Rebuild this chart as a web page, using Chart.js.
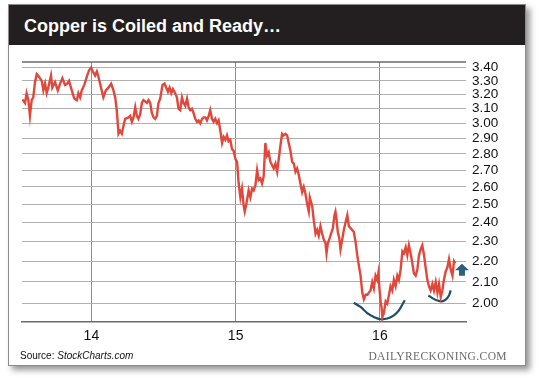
<!DOCTYPE html>
<html>
<head>
<meta charset="utf-8">
<script src="https://cdn.jsdelivr.net/npm/chart.js@4/dist/chart.umd.min.js"></script>
<style>
  body { margin:0; width:540px; height:378px; background:#fff; position:relative; overflow:hidden; font-family:"Liberation Sans", Arial, Helvetica, sans-serif; }
  .card { position:absolute; left:8px; top:4px; width:518px; height:362px; box-sizing:border-box; background:#fff;
          border:1px solid #8c8c8c; box-shadow:4px 4px 6px rgba(0,0,0,0.42); }
  .head { height:40px; padding-top:2px; box-sizing:border-box; background:#231f20; color:#fff; font-weight:bold; font-size:18px;
          line-height:38px; padding-left:15px; }
  #c { position:absolute; left:0; top:0; }
  .src { position:absolute; left:20px; top:349px; font-size:10px; line-height:14px; color:#111; }
  .brand { position:absolute; right:33px; top:349px; font-family:"Liberation Serif", "DejaVu Serif", serif; font-size:11.5px;
           line-height:14px; color:#6a6a6a; letter-spacing:0.4px; }
</style>
</head>
<body>
<div class="card"><div class="head">Copper is Coiled and Ready…</div></div>
<canvas id="c" width="540" height="378"></canvas>
<div class="src">Source: <i>StockCharts.com</i></div>
<div class="brand">DAILYRECKONING.COM</div>
<script>
// copper price, $/lb, x = year (14 = 2014)
const dates = [
  13.521,13.540,13.551,13.563,13.574,13.586,13.597,13.609,13.621,13.637,13.656,13.667,13.679,13.690,13.701,13.720,13.729,13.748,13.767,13.783,
  13.799,13.817,13.833,13.845,13.864,13.882,13.899,13.910,13.922,13.933,13.951,13.968,13.984,13.998,14.010,14.026,14.038,14.049,14.067,14.083,
  14.100,14.118,14.137,14.153,14.165,14.176,14.188,14.199,14.211,14.222,14.234,14.257,14.269,14.281,14.292,14.304,14.315,14.326,14.338,14.350,
  14.361,14.385,14.396,14.408,14.419,14.431,14.442,14.454,14.465,14.477,14.493,14.507,14.519,14.531,14.542,14.554,14.565,14.576,14.593,14.604,
  14.616,14.628,14.639,14.651,14.663,14.674,14.685,14.697,14.708,14.720,14.732,14.743,14.755,14.767,14.778,14.790,14.801,14.813,14.824,14.836,
  14.847,14.859,14.871,14.882,14.894,14.906,14.917,14.929,14.940,14.951,14.963,14.975,14.986,14.998,15.010,15.021,15.033,15.044,15.056,15.063,
  15.074,15.090,15.102,15.114,15.125,15.137,15.149,15.160,15.172,15.183,15.194,15.206,15.218,15.229,15.241,15.253,15.264,15.276,15.288,15.299,
  15.310,15.322,15.333,15.345,15.357,15.368,15.380,15.392,15.403,15.415,15.426,15.438,15.449,15.461,15.472,15.484,15.496,15.507,15.514,15.531,
  15.542,15.554,15.565,15.576,15.588,15.600,15.611,15.623,15.630,15.639,15.653,15.674,15.685,15.692,15.699,15.708,15.718,15.727,15.739,15.750,
  15.762,15.774,15.785,15.797,15.808,15.819,15.831,15.843,15.854,15.866,15.878,15.889,15.901,15.913,15.924,15.935,15.947,15.958,15.970,15.982,
  15.989,15.998,16.005,16.012,16.017,16.028,16.040,16.051,16.063,16.074,16.086,16.097,16.109,16.121,16.132,16.144,16.156,16.167,16.179,16.190,
  16.201,16.213,16.225,16.236,16.248,16.260,16.271,16.283,16.294,16.306,16.317,16.329,16.340,16.352,16.364,16.375,16.387,16.399,16.410,16.422,
  16.433,16.444,16.456,16.468,16.479,16.491,16.503,16.514,16.522
];
const prices = [
  3.165,3.14,3.21,3.16,3.05,3.16,3.18,3.29,3.35,3.33,3.30,3.23,3.28,3.21,3.25,3.34,3.25,3.29,3.23,3.28,
  3.32,3.27,3.28,3.30,3.23,3.17,3.16,3.21,3.18,3.23,3.27,3.33,3.38,3.40,3.37,3.34,3.37,3.33,3.25,3.18,
  3.23,3.25,3.28,3.23,3.18,3.09,2.93,2.95,2.93,2.98,3.03,3.04,3.05,3.01,3.04,3.11,3.05,3.03,3.06,3.14,
  3.16,3.14,3.16,3.14,3.07,3.04,3.03,3.05,3.14,3.17,3.27,3.28,3.25,3.22,3.25,3.21,3.24,3.22,3.18,3.10,
  3.09,3.18,3.14,3.12,3.17,3.11,3.09,3.10,3.07,3.03,3.01,3.02,3.00,3.03,3.04,3.04,3.02,3.05,3.09,3.03,
  3.01,3.03,3.00,3.02,2.95,2.87,2.91,2.89,2.92,2.88,2.89,2.83,2.82,2.77,2.75,2.62,2.54,2.59,2.49,2.46,
  2.50,2.58,2.54,2.59,2.58,2.61,2.70,2.64,2.65,2.62,2.66,2.87,2.79,2.81,2.75,2.73,2.71,2.74,2.69,2.77,
  2.85,2.93,2.92,2.93,2.92,2.87,2.82,2.75,2.74,2.69,2.71,2.67,2.62,2.57,2.60,2.56,2.50,2.46,2.54,2.49,
  2.41,2.34,2.36,2.33,2.38,2.34,2.31,2.29,2.24,2.29,2.32,2.37,2.44,2.46,2.42,2.35,2.32,2.26,2.31,2.36,
  2.40,2.44,2.38,2.37,2.36,2.35,2.30,2.23,2.18,2.13,2.05,2.02,2.04,2.04,2.05,2.06,2.10,2.07,2.13,2.11,
  2.14,2.06,2.01,1.98,1.94,1.96,2.01,2.00,2.04,2.08,2.06,2.11,2.08,2.13,2.11,2.16,2.25,2.24,2.27,2.23,
  2.28,2.24,2.19,2.14,2.13,2.16,2.23,2.26,2.28,2.23,2.17,2.11,2.08,2.06,2.09,2.06,2.10,2.05,2.09,2.03,
  2.06,2.11,2.15,2.17,2.21,2.16,2.13,2.20,2.19
];

// hand-drawn "cups" under the two lows
const cup1Dates  = [15.819,15.866,15.913,15.958,16.005,16.051,16.097,16.132,16.172];
const cup1Prices = [2.004,1.985,1.958,1.941,1.931,1.934,1.948,1.970,2.015];
const cup2Dates  = [16.336,16.364,16.394,16.429,16.456,16.479,16.491];
const cup2Prices = [2.037,2.025,2.015,2.010,2.018,2.037,2.060];
const arrowAt = {x: 16.569, y: 2.188};

const yTicks = [2.00,2.10,2.20,2.30,2.40,2.50,2.60,2.70,2.80,2.90,3.00,3.10,3.20,3.30,3.40];
const xTicks = [14, 15, 16];

const red = '#e2473b';
const blue = '#1f4e6d';
const pts = (xs, ys) => xs.map((x, i) => ({x: x, y: ys[i]}));

const frameAndArrow = {
  id: 'frameAndArrow',
  afterDatasetsDraw(chart) {
    const ctx = chart.ctx;
    const a = chart.chartArea;
    ctx.save();
    ctx.strokeStyle = '#6a6a6a';
    ctx.lineWidth = 1.5;
    ctx.beginPath();
    ctx.moveTo(a.left, a.top);
    ctx.lineTo(a.right, a.top);
    ctx.stroke();

    // up arrow
    const cx = chart.scales.x.getPixelForValue(arrowAt.x);
    const ty = chart.scales.y.getPixelForValue(arrowAt.y);
    ctx.fillStyle = '#2b5f80';
    ctx.beginPath();
    ctx.moveTo(cx, ty);
    ctx.lineTo(cx + 7, ty + 6.5);
    ctx.lineTo(cx + 3, ty + 6.5);
    ctx.lineTo(cx + 3, ty + 12);
    ctx.lineTo(cx - 3, ty + 12);
    ctx.lineTo(cx - 3, ty + 6.5);
    ctx.lineTo(cx - 7, ty + 6.5);
    ctx.closePath();
    ctx.fill();
    ctx.restore();
  }
};

new Chart(document.getElementById('c'), {
  type: 'line',
  data: {
    datasets: [{
      data: pts(dates, prices),
      borderColor: red,
      borderWidth: 2.4,
      pointRadius: 0,
      tension: 0
    }, {
      data: pts(cup1Dates, cup1Prices),
      borderColor: blue,
      borderWidth: 2.2,
      pointRadius: 0,
      tension: 0.4
    }, {
      data: pts(cup2Dates, cup2Prices),
      borderColor: blue,
      borderWidth: 2.2,
      pointRadius: 0,
      tension: 0.4
    }]
  },
  options: {
    responsive: false,
    animation: false,
    devicePixelRatio: 1,
    layout: {padding: {left: 22, top: 62, right: 0, bottom: 26}},
    plugins: {legend: {display: false}, tooltip: {enabled: false}},
    scales: {
      x: {
        type: 'linear',
        min: 13.519,
        max: 16.597,
        afterBuildTicks: s => { s.ticks = xTicks.map(v => ({value: v})); },
        afterFit: s => { s.height = 30; },
        grid: {color: '#8f8f8f', drawTicks: false},
        border: {display: true, color: '#6a6a6a', width: 1.5},
        ticks: {
          padding: 6,
          color: '#111',
          font: {family: '"Liberation Sans", Arial, sans-serif', size: 14},
          callback: v => String(v)
        }
      },
      y: {
        type: 'logarithmic',
        position: 'right',
        min: 1.919,
        max: 3.443,
        afterBuildTicks: s => { s.ticks = yTicks.map(v => ({value: v})); },
        afterFit: s => { s.width = 74; },
        grid: {color: '#b0b0b0', drawTicks: false},
        border: {display: false},
        ticks: {
          padding: 6,
          autoSkip: false,
          color: '#111',
          font: {family: '"Liberation Sans", Arial, sans-serif', size: 13.5},
          callback: v => Number(v).toFixed(2)
        }
      }
    }
  },
  plugins: [frameAndArrow]
});
</script>
</body>
</html>
